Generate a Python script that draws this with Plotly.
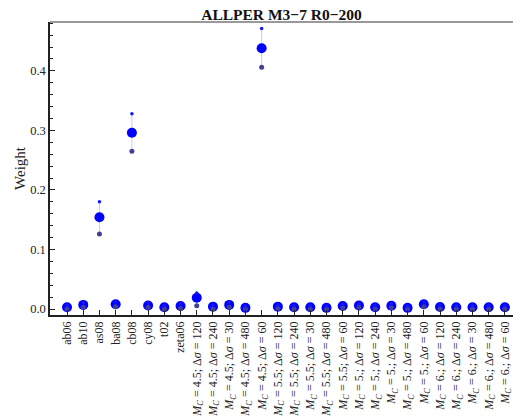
import plotly.graph_objects as go

# Model names and ground-motion branch labels along the x axis
models = ["ab06", "ab10", "as08", "ba08", "cb08", "cy08", "t02", "zeta06"]
branch_mc = ["4.5", "4.5", "4.5", "4.5", "4.5",
             "5.5", "5.5", "5.5", "5.5", "5.5",
             "5.", "5.", "5.", "5.", "5.",
             "6.", "6.", "6.", "6.", "6."]
branch_ds = ["120", "240", "30", "480", "60"] * 4

# Estimated weight, with lower and upper bounds, for each category
weight = [0.003, 0.007, 0.154, 0.008, 0.296, 0.006, 0.003, 0.005,
          0.019, 0.004, 0.007, 0.002, 0.438,
          0.004, 0.003, 0.003, 0.002, 0.005,
          0.006, 0.003, 0.0055, 0.002, 0.008,
          0.0035, 0.003, 0.003, 0.003, 0.003]
lower = [0.000, 0.003, 0.126, 0.004, 0.265, 0.003, 0.000, 0.001,
         0.0055, 0.000, 0.003, 0.000, 0.406,
         0.001, 0.000, 0.000, 0.000, 0.002,
         0.003, 0.000, 0.002, 0.000, 0.004,
         0.000, 0.000, 0.000, 0.000, 0.000]
upper = [0.006, 0.011, 0.180, 0.012, 0.328, 0.010, 0.006, 0.009,
         0.027, 0.007, 0.011, 0.005, 0.471,
         0.007, 0.006, 0.006, 0.005, 0.008,
         0.009, 0.006, 0.009, 0.005, 0.012,
         0.007, 0.006, 0.006, 0.006, 0.006]

labels = models + [
    f"<i>M<sub>C</sub></i> = {mc}; Δ<i>σ</i> = {ds}"
    for mc, ds in zip(branch_mc, branch_ds)
]
xs = list(range(len(labels)))

font_family = "Liberation Serif"

fig = go.Figure()

# Main estimate with a light range bar from lower to upper bound
fig.add_trace(go.Scatter(
    x=xs, y=weight, mode="markers",
    marker=dict(size=10, color="#0000ff"),
    error_y=dict(
        type="data", symmetric=False,
        array=[u - w for u, w in zip(upper, weight)],
        arrayminus=[w - l for w, l in zip(weight, lower)],
        color="#c9c9f0", thickness=1, width=0,
    ),
    showlegend=False,
))
# Lower bound
fig.add_trace(go.Scatter(
    x=xs, y=lower, mode="markers",
    marker=dict(size=5, color="#404096"),
    showlegend=False,
))
# Upper bound
fig.add_trace(go.Scatter(
    x=xs, y=upper, mode="markers",
    marker=dict(size=3.5, color="#1515ff"),
    showlegend=False,
))

fig.update_layout(
    width=513, height=417,
    margin=dict(l=50, r=0, t=22, b=102),
    paper_bgcolor="white", plot_bgcolor="white",
    font=dict(family=font_family, size=12, color="#333333"),
    title=dict(
        text="<b>ALLPER M3−7 R0−200</b>",
        x=0.5, xref="paper", xanchor="center",
        y=1, yref="paper", yanchor="bottom", pad=dict(b=2),
        font=dict(family=font_family, size=15.5, color="#111111"),
    ),
    xaxis=dict(
        range=[-1.05, 27.5],
        tickmode="array", tickvals=xs, ticktext=labels,
        tickangle=-90, ticklabeloverflow="allow",
        ticks="inside", ticklen=5, tickcolor="#222222",
        showline=True, linecolor="#222222", linewidth=1.5,
        showgrid=False, zeroline=False, automargin=False,
        tickfont=dict(family=font_family, size=12, color="#222222"),
    ),
    yaxis=dict(
        range=[-0.010, 0.482],
        dtick=0.1, tick0=0, tickformat=".1f",
        ticks="inside", ticklen=5, tickcolor="#222222",
        minor=dict(ticks="inside", dtick=0.02, ticklen=3, tickcolor="#222222"),
        showline=True, linecolor="#222222", linewidth=1.5,
        showgrid=False, zeroline=False, automargin=False,
        title=dict(text="Weight", standoff=1,
                   font=dict(family=font_family, size=15, color="#222222")),
        tickfont=dict(family=font_family, size=12.5, color="#222222"),
    ),
    shapes=[dict(
        type="line", xref="paper", yref="paper",
        x0=0, x1=1, y0=1, y1=1,
        line=dict(color="#777777", width=1.5),
    )],
)

fig.write_html("out.html")
